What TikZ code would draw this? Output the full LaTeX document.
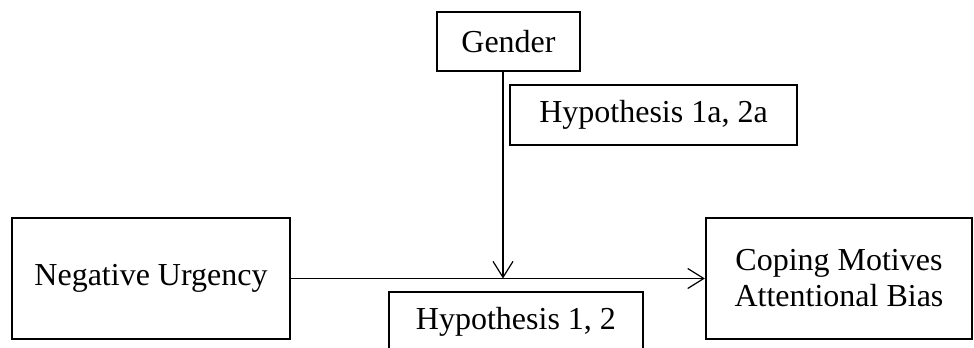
\documentclass[tikz,border=0pt]{standalone}
\usepackage{fontspec}
\setmainfont{Liberation Serif}
\usetikzlibrary{arrows.meta}

\begin{document}
\begin{tikzpicture}[x=0.375pt,y=-0.375pt,
	varbox/.style={draw,line width=0.9pt,inner sep=0pt,align=center,font=\fontsize{12}{13.5}\selectfont},
	link/.style={line width=0.45pt,-{Straight Barb[length=6pt,width=7.5pt]}}]
		\useasboundingbox (0,0) rectangle (974,348);
		\clip (0,0) rectangle (974,348);
		\node[varbox,minimum width=53.6pt,minimum height=22.1pt] (gender) at (508.5,41.5) {Gender};
		\node[varbox,minimum width=107.6pt,minimum height=22.5pt] (hypmod) at (653.5,115) {Hypothesis 1a, 2a};
		\node[varbox,minimum width=104.2pt,minimum height=45.4pt] (urgency) at (151,278.5) {Negative Urgency};
		\node[varbox,minimum width=99.7pt,minimum height=45.4pt] (coping) at (839,278.5) {Coping Motives\\Attentional Bias};
		\node[varbox,minimum width=95.2pt,minimum height=22.5pt] (hypmain) at (516,322) {Hypothesis 1, 2};
		\draw[link] (urgency.east) -- (coping.west) coordinate[pos=0.5] (midpath);
		\coordinate (moderate) at (503,278.5);
		\draw[link] (gender.south -| moderate) -- (moderate);
	\end{tikzpicture}
\end{document}
